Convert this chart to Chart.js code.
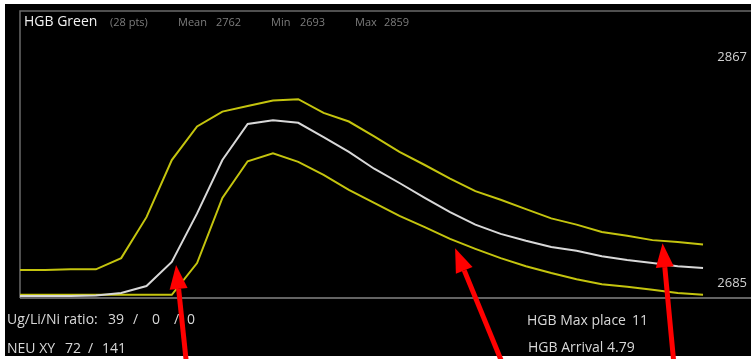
<!DOCTYPE html>
<html>
<head>
<meta charset="utf-8">
<script src="https://cdn.jsdelivr.net/npm/chart.js@4"></script>
<style>
    html, body { margin: 0; padding: 0; background: #fff; }
    #wrap { position: relative; width: 751px; height: 359px; overflow: hidden; font-family: "Open Sans", sans-serif; }
    #wrap canvas { position: absolute; left: 0; top: 0; }
    .lbl { position: absolute; white-space: pre; line-height: 1; }
    .big { font-size: 14px; color: #d8d8d8; }
    .small { font-size: 11px; color: #7c7c7c; }
</style>
</head>
<body>
<div id="wrap">
    <canvas id="hgb-chart" width="751" height="359"></canvas>

    <span class="lbl" style="left:24px; top:14px; font-size:14px; color:#f2f2f2;">HGB Green</span>
    <span class="lbl small" style="left:110px; top:16px;">(28 pts)</span>
    <span class="lbl small" style="left:178px; top:16px;">Mean</span>
    <span class="lbl small" style="left:216px; top:16px;">2762</span>
    <span class="lbl small" style="left:271px; top:16px;">Min</span>
    <span class="lbl small" style="left:300px; top:16px;">2693</span>
    <span class="lbl small" style="left:355px; top:16px;">Max</span>
    <span class="lbl small" style="left:384px; top:16px;">2859</span>

    <span class="lbl big" style="left:7px; top:312px;">Ug/Li/Ni ratio:</span>
    <span class="lbl big" style="left:108px; top:312px;">39</span>
    <span class="lbl big" style="left:133px; top:312px;">/</span>
    <span class="lbl big" style="left:152px; top:312px;">0</span>
    <span class="lbl big" style="left:174px; top:312px;">/</span>
    <span class="lbl big" style="left:187px; top:312px;">0</span>

    <span class="lbl big" style="left:7px; top:341px;">NEU XY</span>
    <span class="lbl big" style="left:65px; top:341px;">72</span>
    <span class="lbl big" style="left:88px; top:341px;">/</span>
    <span class="lbl big" style="left:102px; top:341px;">141</span>

    <span class="lbl big" style="left:527px; top:313px;">HGB Max place</span>
    <span class="lbl big" style="left:632px; top:313px;">11</span>
    <span class="lbl big" style="left:528px; top:340px;">HGB Arrival</span>
    <span class="lbl big" style="left:607px; top:340px;">4.79</span>
</div>

<script>
// 28 samples
const samples = [1, 2, 3, 4, 5, 6, 7, 8, 9, 10, 11, 12, 13, 14,
                 15, 16, 17, 18, 19, 20, 21, 22, 23, 24, 25, 26, 27, 28];

const meanLine = [2674.5, 2674.5, 2674.5, 2675, 2677, 2682.5, 2702, 2741, 2784, 2813,
                  2816, 2814, 2802.5, 2790.5, 2777, 2765.5, 2753.5, 2742, 2732, 2724.5,
                  2719, 2714, 2711, 2706.5, 2703.5, 2701, 2698.5, 2697];

const upperBand = [2695.5, 2695.5, 2696, 2696, 2705, 2738, 2784, 2811, 2823, 2827.5,
                   2832, 2833, 2822, 2815, 2803, 2790.5, 2780, 2769, 2759, 2752,
                   2744.5, 2737, 2732, 2726, 2723, 2719.5, 2718, 2716];

const lowerBand = [2675.5, 2675.5, 2675.5, 2675.5, 2675.5, 2675.5, 2675.5, 2701, 2753.5, 2783,
                   2789.5, 2782.5, 2772, 2760, 2749.5, 2739, 2730, 2720.5, 2712.5, 2705,
                   2698.5, 2693, 2688, 2684, 2682, 2679.5, 2677, 2675.5];

const yTicks = [2685, 2867];

// red annotation arrows: tip in data units (sample, value)
const arrowSample = [7.17, 18.2, 26.4];
const arrowValue = [2699.5, 2713, 2717];

function toPoints(values) {
    return values.map((v, i) => ({ x: samples[i], y: v }));
}

const framePlugin = {
    id: 'frame',
    beforeDraw(chart) {
        const ctx = chart.ctx;
        const area = chart.chartArea;
        ctx.save();
        ctx.fillStyle = '#ffffff';
        ctx.fillRect(0, 0, chart.width, chart.height);
        ctx.fillStyle = '#000000';
        ctx.fillRect(5, 4, chart.width - 5, chart.height - 7);

        ctx.strokeStyle = '#6a6a6a';
        ctx.lineWidth = 1.5;
        ctx.beginPath();
        ctx.moveTo(chart.width, area.top);
        ctx.lineTo(area.left, area.top);
        ctx.lineTo(area.left, area.bottom);
        ctx.stroke();
        ctx.strokeStyle = '#858585';
        ctx.beginPath();
        ctx.moveTo(area.left, area.bottom);
        ctx.lineTo(chart.width, area.bottom);
        ctx.stroke();
        ctx.restore();
    },
    afterDraw(chart) {
        const ctx = chart.ctx;
        const xs = chart.scales.x;
        const ys = chart.scales.y;
        const tails = [[10, 95], [46, 112], [11, 117]];
        ctx.save();
        ctx.fillStyle = '#ff0000';
        ctx.strokeStyle = '#ff0000';
        ctx.lineWidth = 5;
        arrowSample.forEach((s, i) => {
            const tx = xs.getPixelForValue(s);
            const ty = ys.getPixelForValue(arrowValue[i]);
            const bx = tx + tails[i][0];
            const by = ty + tails[i][1];
            const ang = Math.atan2(ty - by, tx - bx);
            const headLen = 24, headW = 9;
            const hx = tx - headLen * Math.cos(ang);
            const hy = ty - headLen * Math.sin(ang);
            ctx.beginPath();
            ctx.moveTo(bx, by);
            ctx.lineTo(hx, hy);
            ctx.stroke();
            ctx.beginPath();
            ctx.moveTo(tx, ty);
            ctx.lineTo(hx + headW * Math.sin(ang), hy - headW * Math.cos(ang));
            ctx.lineTo(hx - headW * Math.sin(ang), hy + headW * Math.cos(ang));
            ctx.closePath();
            ctx.fill();
        });
        ctx.restore();
    }
};

const ctxHgb = document.getElementById('hgb-chart').getContext('2d');
const hgbChart = new Chart(ctxHgb, {
    type: 'line',
    data: {
        datasets: [{
            label: 'Mean',
            data: toPoints(meanLine),
            borderColor: '#d8d8d8',
            borderWidth: 2,
        }, {
            label: 'Upper',
            data: toPoints(upperBand),
            borderColor: '#c4c40e',
            borderWidth: 2,
        }, {
            label: 'Lower',
            data: toPoints(lowerBand),
            borderColor: '#c4c40e',
            borderWidth: 2,
        }]
    },
    options: {
        responsive: false,
        animation: false,
        events: [],
        layout: { padding: { left: 20, top: 11, right: 0, bottom: 61 } },
        elements: {
            point: { radius: 0 },
            line: { tension: 0, fill: false }
        },
        plugins: {
            legend: { display: false },
            tooltip: { enabled: false },
            title: { display: false }
        },
        scales: {
            x: {
                type: 'linear',
                display: false,
                min: 1,
                max: 29.58
            },
            y: {
                type: 'linear',
                position: 'right',
                min: 2672.9,
                max: 2904,
                grid: { display: false, drawTicks: false, tickLength: 0 },
                border: { display: false },
                afterBuildTicks: scale => { scale.ticks = yTicks.map(v => ({ value: v })); },
                afterFit: scale => { scale.paddingTop = 0; scale.paddingBottom = 0; },
                ticks: {
                    mirror: true,
                    padding: 4,
                    color: '#d0d0d0',
                    font: { family: 'Open Sans', size: 13 },
                    callback: value => String(value)
                }
            }
        }
    },
    plugins: [framePlugin]
});
</script>
</body>
</html>
